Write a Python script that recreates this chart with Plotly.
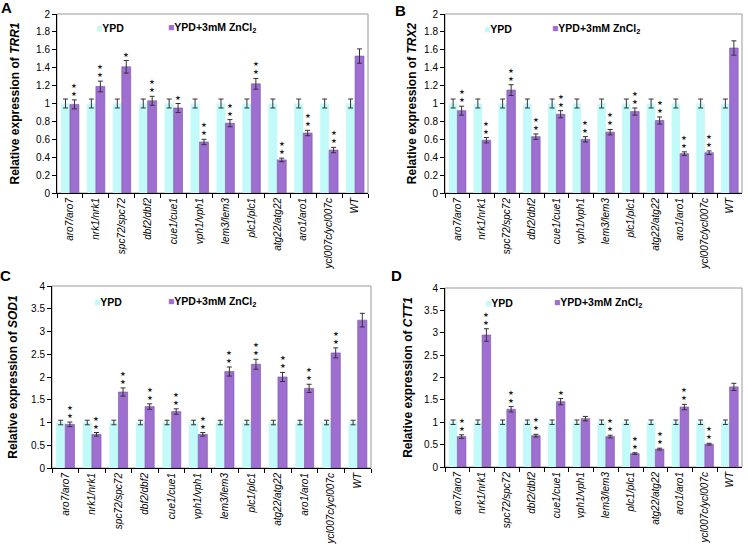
import plotly.graph_objects as go

strains = ["aro7/aro7", "nrk1/nrk1", "spc72/spc72", "dbf2/dbf2", "cue1/cue1",
           "vph1/vph1", "lem3/lem3", "plc1/plc1", "atg22/atg22", "aro1/aro1",
           "ycl007c/ycl007c", "WT"]

genes = ["TRR1", "TRX2", "SOD1", "CTT1"]
panel_letters = ["A", "B", "C", "D"]

ypd_trr1 = [1.0] * 12
ypd_trr1_err = [0.05] * 12
zn_trr1 = [0.99, 1.19, 1.41, 1.03, 0.95, 0.57, 0.78, 1.22, 0.37, 0.67, 0.48, 1.53]
zn_trr1_err = [0.05, 0.06, 0.07, 0.05, 0.05, 0.03, 0.04, 0.06, 0.02, 0.03, 0.03, 0.08]
stars_trr1 = [2, 2, 1, 2, 1, 2, 2, 2, 2, 2, 2, 0]

ypd_trx2 = [1.0] * 12
ypd_trx2_err = [0.05] * 12
zn_trx2 = [0.92, 0.59, 1.15, 0.63, 0.88, 0.60, 0.68, 0.91, 0.81, 0.44, 0.45, 1.62]
zn_trx2_err = [0.05, 0.03, 0.06, 0.03, 0.04, 0.03, 0.03, 0.04, 0.04, 0.02, 0.02, 0.08]
stars_trx2 = [2, 2, 2, 2, 2, 2, 2, 2, 2, 2, 2, 0]

ypd_sod1 = [1.0] * 12
ypd_sod1_err = [0.05] * 12
zn_sod1 = [0.96, 0.74, 1.67, 1.35, 1.24, 0.74, 2.12, 2.28, 2.00, 1.75, 2.53, 3.25]
zn_sod1_err = [0.05, 0.04, 0.09, 0.06, 0.06, 0.04, 0.10, 0.11, 0.10, 0.09, 0.11, 0.15]
stars_sod1 = [2, 2, 2, 2, 2, 2, 2, 2, 2, 2, 2, 0]

ypd_ctt1 = [1.0] * 12
ypd_ctt1_err = [0.05] * 12
zn_ctt1 = [0.68, 2.95, 1.29, 0.70, 1.46, 1.08, 0.68, 0.30, 0.40, 1.34, 0.51, 1.79]
zn_ctt1_err = [0.04, 0.14, 0.06, 0.03, 0.07, 0.05, 0.03, 0.02, 0.02, 0.06, 0.02, 0.08]
stars_ctt1 = [2, 2, 2, 2, 1, 0, 2, 2, 2, 2, 2, 0]

y_ranges = [[0, 2], [0, 2], [0, 4], [0, 4]]
y_dticks = [0.2, 0.2, 0.5, 0.5]

panels = [
    (ypd_trr1, ypd_trr1_err, zn_trr1, zn_trr1_err, stars_trr1),
    (ypd_trx2, ypd_trx2_err, zn_trx2, zn_trx2_err, stars_trx2),
    (ypd_sod1, ypd_sod1_err, zn_sod1, zn_sod1_err, stars_sod1),
    (ypd_ctt1, ypd_ctt1_err, zn_ctt1, zn_ctt1_err, stars_ctt1),
]

W, H = 748, 546
CYAN = "#C2F9F9"
PURPLE = "#9E6FD0"
FONT = "Liberation Sans, Arial, sans-serif"

# plot-area pixel boxes: (left, right, top, bottom)
boxes = [(57, 368, 14, 193), (445, 742, 14, 193), (52, 371, 286, 468), (445, 742, 288, 467)]
standoffs = [13, 4, 10, 8]
legend_pos = [(94, 166, 28), (482, 550, 29), (92, 166, 302), (483, 552, 303)]
letter_pos = [(7, 8), (400, 10), (5, 275), (396, 275)]
BARGAP = 0.31

fig = go.Figure()
for i, (ypd, ypd_err, zn, zn_err, stars) in enumerate(panels):
    n = "" if i == 0 else str(i + 1)
    xa, ya = "x" + n, "y" + n
    fig.add_trace(go.Bar(
        x=strains, y=ypd, name="YPD", marker=dict(color=CYAN, line=dict(width=0)),
        error_y=dict(type="data", array=ypd_err, color="#333333", thickness=1, width=2.5),
        xaxis=xa, yaxis=ya, showlegend=False))
    fig.add_trace(go.Bar(
        x=strains, y=zn, name="YPD+3mM ZnCl2",
        marker=dict(color=PURPLE, line=dict(width=0.6, color="#7A4FA6")),
        error_y=dict(type="data", array=zn_err, color="#333333", thickness=1, width=2.5),
        xaxis=xa, yaxis=ya, showlegend=False))

    l, r, t, b = boxes[i]
    xd = [l / W, r / W]
    yd = [1 - b / H, 1 - t / H]
    fig.update_layout(**{
        "xaxis" + n: dict(domain=xd, anchor=ya, type="category", tickson="boundaries",
                          ticks="outside", ticklen=4, tickcolor="black", automargin=False,
                          showline=True, linecolor="black", linewidth=1,
                          tickangle=-90, showgrid=False,
                          tickfont=dict(size=10, family=FONT, color="black", style="italic")),
        "yaxis" + n: dict(domain=yd, anchor=xa, range=y_ranges[i], dtick=y_dticks[i],
                          ticks="outside", ticklen=4, tickcolor="black", automargin=False,
                          showline=True, linecolor="black", linewidth=1,
                          showgrid=False, zeroline=False,
                          tickfont=dict(size=10, family=FONT, color="black"),
                          title=dict(text="<b>Relative expression of <i>" + genes[i] + "</i></b>",
                                     font=dict(size=12, family=FONT, color="black"),
                                     standoff=standoffs[i])),
    })
    # gray frame
    fig.add_shape(type="rect", xref=xa + " domain", yref=ya + " domain",
                  x0=0, x1=1, y0=0, y1=1, line=dict(color="#999999", width=1), layer="below")

    # significance stars above the ZnCl2 bars
    cat_w = (r - l) / len(strains)
    off = cat_w * (1 - BARGAP) / 4
    for s, v, e, k in zip(strains, zn, zn_err, stars):
        if k == 0:
            continue
        fig.add_annotation(x=s, y=v + e, xref=xa, yref=ya, text="<br>".join(["★"] * k),
                           showarrow=False, xshift=off, yshift=1,
                           yanchor="bottom", borderpad=0,
                           font=dict(size=6.5, family="DejaVu Sans", color="#222222"))

    # legend (text entries inside each panel)
    lx1, lx2, ly = legend_pos[i]
    fig.add_annotation(x=lx1 / W, y=1 - ly / H, xref="paper", yref="paper",
                       xanchor="left", yanchor="middle", showarrow=False,
                       text="<span style='color:%s'>■</span><b>YPD</b>" % CYAN,
                       font=dict(size=10.5, family=FONT, color="black"))
    fig.add_annotation(x=lx2 / W, y=1 - ly / H, xref="paper", yref="paper",
                       xanchor="left", yanchor="middle", showarrow=False,
                       text="<span style='color:%s'>■</span><b>YPD+3mM ZnCl<sub>2</sub></b>" % PURPLE,
                       font=dict(size=10.5, family=FONT, color="black"))
    # panel letter
    px, py = letter_pos[i]
    fig.add_annotation(x=px / W, y=1 - py / H, xref="paper", yref="paper",
                       xanchor="center", yanchor="middle", showarrow=False,
                       text="<b>" + panel_letters[i] + "</b>",
                       font=dict(size=15, family=FONT, color="black"))

fig.update_layout(width=W, height=H, autosize=False,
                  margin=dict(l=0, r=0, t=0, b=0),
                  barmode="group", bargap=BARGAP, bargroupgap=0,
                  plot_bgcolor="white", paper_bgcolor="white",
                  font=dict(family=FONT, color="black"))

fig.write_html("out.html", config={"displayModeBar": False},
               post_script="document.body.style.margin='0px';document.body.style.overflow='hidden';")
